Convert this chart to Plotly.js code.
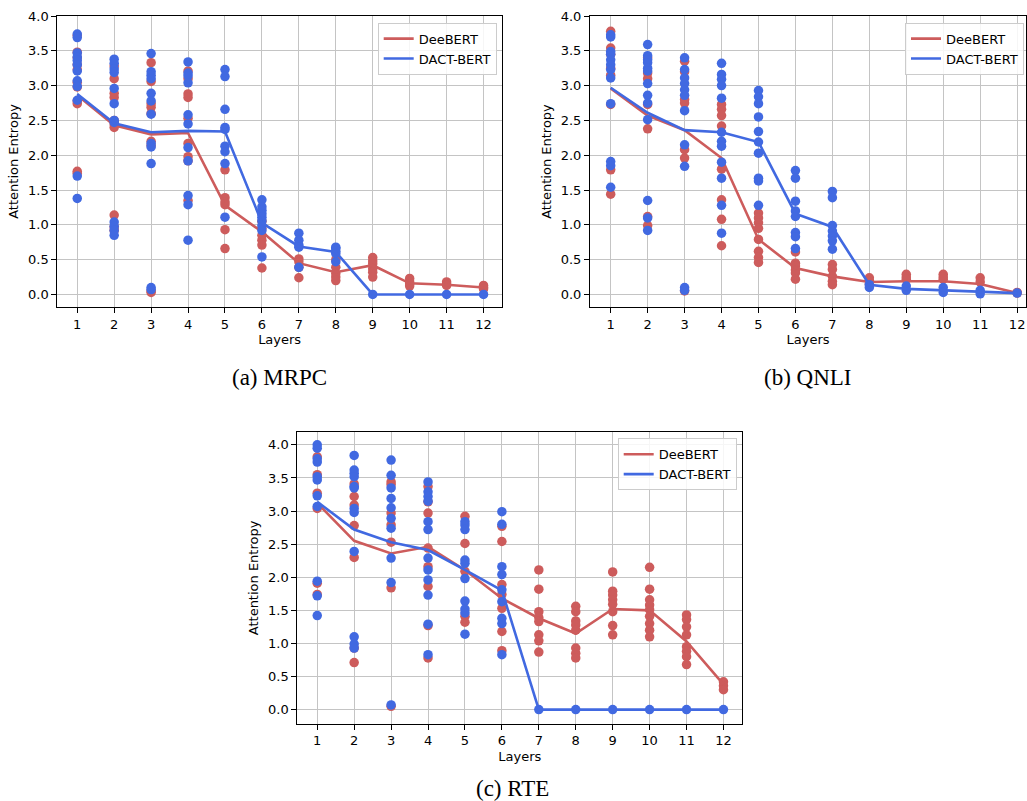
<!DOCTYPE html>
<html>
<head>
<meta charset="utf-8">
<script src="https://cdn.plot.ly/plotly-3.0.1.min.js"></script>
<style>
  html, body { margin: 0; padding: 0; background: #fff; }
  #chart { width: 1027px; height: 801px; }
</style>
</head>
<body>
<div id="chart"></div>
<script>
// ---------------- data ----------------
const layers = [1, 2, 3, 4, 5, 6, 7, 8, 9, 10, 11, 12];
const seriesNames = ["DeeBERT", "DACT-BERT"];
const captions = ["(a) MRPC", "(b) QNLI", "(c) RTE"];

// MRPC: per-layer head entropies
const mrpcDeeBERTPoints = [
  [3.72, 3.48, 3.40, 3.30, 3.23, 3.05, 2.98, 2.78, 2.74, 1.77, 1.74],
  [3.28, 3.10, 2.89, 2.83, 2.50, 2.45, 2.40, 1.14, 0.97, 0.92],
  [3.33, 3.06, 2.74, 2.69, 2.60, 2.20, 2.14, 0.05, 0.03],
  [3.21, 3.10, 2.88, 2.83, 2.53, 2.17, 1.98, 1.92, 1.35],
  [1.79, 1.39, 1.33, 1.29, 0.93, 0.66],
  [1.05, 0.95, 0.85, 0.78, 0.71, 0.38],
  [0.51, 0.47, 0.39, 0.24],
  [0.50, 0.39, 0.30, 0.25, 0.20],
  [0.53, 0.48, 0.44, 0.37, 0.32, 0.25],
  [0.23, 0.18, 0.15, 0.12],
  [0.18, 0.15, 0.13],
  [0.13, 0.10, 0.08]
];
const mrpcDactPoints = [
  [3.74, 3.69, 3.47, 3.41, 3.36, 3.30, 3.21, 3.07, 2.99, 2.79, 1.70, 1.38],
  [3.38, 3.32, 3.24, 3.19, 2.96, 2.74, 2.50, 2.47, 1.04, 0.98, 0.92, 0.85],
  [3.46, 3.20, 3.15, 3.10, 2.89, 2.78, 2.59, 2.17, 2.12, 1.88, 0.10, 0.07],
  [3.34, 3.18, 3.14, 3.04, 2.58, 2.45, 2.11, 1.92, 1.42, 1.29, 0.78],
  [3.23, 3.13, 2.66, 2.40, 2.37, 2.13, 2.05, 1.88, 1.11],
  [1.36, 1.26, 1.21, 1.16, 1.11, 1.06, 0.99, 0.92, 0.54],
  [0.88, 0.78, 0.71, 0.68, 0.39],
  [0.68, 0.66, 0.62, 0.59, 0.47],
  [0.0], [0.0], [0.0], [0.0]
];
const mrpcDeeBERTMean = [2.86, 2.43, 2.30, 2.32, 1.28, 0.90, 0.45, 0.32, 0.42, 0.16, 0.14, 0.10];
const mrpcDactMean    = [2.88, 2.46, 2.33, 2.35, 2.34, 1.03, 0.69, 0.61, 0.0, 0.0, 0.0, 0.0];

// QNLI
const qnliDeeBERTPoints = [
  [3.78, 3.54, 3.45, 3.25, 3.15, 2.73, 1.79, 1.44],
  [3.40, 3.18, 3.10, 2.73, 2.38, 1.12, 0.99],
  [3.35, 3.20, 2.80, 2.75, 2.08, 1.96, 0.05],
  [2.73, 2.66, 2.57, 2.42, 1.80, 1.36, 1.08, 0.70],
  [1.17, 1.10, 1.03, 0.95, 0.79, 0.62, 0.53, 0.46],
  [0.61, 0.45, 0.41, 0.35, 0.31, 0.22],
  [0.43, 0.36, 0.26, 0.19, 0.14],
  [0.24, 0.20, 0.15],
  [0.29, 0.25, 0.22],
  [0.29, 0.25, 0.22],
  [0.24, 0.18],
  [0.03, 0.02]
];
const qnliDactPoints = [
  [3.73, 3.70, 3.49, 3.45, 3.37, 3.30, 3.23, 3.11, 2.74, 1.91, 1.85, 1.54],
  [3.59, 3.43, 3.37, 3.33, 3.25, 3.21, 3.03, 2.86, 2.75, 2.51, 1.35, 1.10, 0.92],
  [3.40, 3.23, 3.11, 3.03, 2.94, 2.86, 2.64, 2.15, 1.84, 0.10, 0.06],
  [3.32, 3.16, 3.09, 3.00, 2.82, 2.33, 2.20, 2.13, 1.90, 1.67, 1.28, 0.88],
  [2.93, 2.84, 2.74, 2.55, 2.34, 2.19, 2.03, 1.67, 1.63, 1.28],
  [1.78, 1.67, 1.34, 1.20, 1.12, 0.89, 0.83, 0.66],
  [1.48, 1.39, 0.99, 0.91, 0.84, 0.77, 0.65],
  [0.14, 0.10],
  [0.12, 0.06],
  [0.10, 0.03],
  [0.06, 0.01],
  [0.02]
];
const qnliDeeBERTMean = [2.96, 2.57, 2.36, 1.96, 0.79, 0.38, 0.26, 0.18, 0.19, 0.19, 0.15, 0.02];
const qnliDactMean    = [2.97, 2.61, 2.36, 2.33, 2.19, 1.16, 0.97, 0.14, 0.08, 0.06, 0.03, 0.02];

// RTE
const rteDeeBERTPoints = [
  [3.82, 3.55, 3.27, 3.04, 1.91, 1.74],
  [3.41, 3.22, 3.09, 2.78, 2.30, 0.93, 0.71],
  [3.44, 3.40, 2.97, 2.79, 2.53, 1.84, 0.05],
  [3.37, 3.14, 2.97, 2.44, 2.16, 1.86, 1.27, 0.78],
  [2.92, 2.51, 2.09, 1.41, 1.32],
  [2.77, 2.54, 1.89, 1.74, 1.53, 1.18, 0.89],
  [2.11, 1.82, 1.48, 1.39, 1.33, 1.13, 1.04, 0.87],
  [1.56, 1.48, 1.34, 1.28, 1.20, 0.93, 0.85, 0.78],
  [2.08, 1.79, 1.73, 1.66, 1.59, 1.48, 1.27, 1.13],
  [2.15, 1.82, 1.66, 1.58, 1.51, 1.41, 1.30, 1.20, 1.10],
  [1.43, 1.36, 1.25, 1.13, 0.95, 0.88, 0.80, 0.68],
  [0.42, 0.36, 0.30]
];
const rteDactPoints = [
  [4.00, 3.95, 3.79, 3.74, 3.52, 3.47, 3.23, 3.07, 1.94, 1.72, 1.42],
  [3.84, 3.62, 3.57, 3.52, 3.37, 3.35, 3.04, 2.98, 2.39, 1.10, 0.99, 0.93],
  [3.77, 3.54, 3.35, 3.19, 3.05, 2.89, 2.74, 2.29, 1.92, 0.07],
  [3.44, 3.29, 3.22, 3.15, 2.84, 2.72, 2.29, 2.11, 1.96, 1.73, 1.29, 0.83],
  [2.84, 2.79, 2.72, 2.26, 2.21, 1.98, 1.64, 1.52, 1.46, 1.14],
  [2.99, 2.80, 2.16, 2.04, 1.81, 1.63, 1.38, 1.30, 0.83],
  [0.0], [0.0], [0.0], [0.0], [0.0], [0.0]
];
const rteDeeBERTMean = [3.12, 2.55, 2.36, 2.46, 2.11, 1.68, 1.38, 1.15, 1.52, 1.50, 1.03, 0.38];
const rteDactMean    = [3.14, 2.72, 2.53, 2.41, 2.11, 1.80, 0.0, 0.0, 0.0, 0.0, 0.0, 0.0];

const yTickVals = [0.0, 0.5, 1.0, 1.5, 2.0, 2.5, 3.0, 3.5, 4.0];

// ---------------- styling ----------------
const RED = "#cd5c5c";
const BLUE = "#4169e1";
const FONT = "DejaVu Sans, sans-serif";
const W = 1027, H = 801;

function flatten(points) {
  const xs = [], ys = [];
  points.forEach((vals, i) => vals.forEach(v => { xs.push(layers[i]); ys.push(v); }));
  return { xs, ys };
}

const panels = [
  { dee: mrpcDeeBERTPoints, dact: mrpcDactPoints, deeM: mrpcDeeBERTMean, dactM: mrpcDactMean, xa: "x", ya: "y", lg: "legend" },
  { dee: qnliDeeBERTPoints, dact: qnliDactPoints, deeM: qnliDeeBERTMean, dactM: qnliDactMean, xa: "x2", ya: "y2", lg: "legend2" },
  { dee: rteDeeBERTPoints, dact: rteDactPoints, deeM: rteDeeBERTMean, dactM: rteDactMean, xa: "x3", ya: "y3", lg: "legend3" }
];

const traces = [];
panels.forEach(p => {
  const d = flatten(p.dee), b = flatten(p.dact);
  traces.push({ x: d.xs, y: d.ys, xaxis: p.xa, yaxis: p.ya, mode: "markers", type: "scatter",
    marker: { color: RED, size: 9.5 }, showlegend: false, hoverinfo: "skip" });
  traces.push({ x: layers, y: p.deeM, xaxis: p.xa, yaxis: p.ya, mode: "lines", type: "scatter",
    name: seriesNames[0], legend: p.lg, line: { color: RED, width: 2.6 } });
  traces.push({ x: b.xs, y: b.ys, xaxis: p.xa, yaxis: p.ya, mode: "markers", type: "scatter",
    marker: { color: BLUE, size: 9.5 }, showlegend: false, hoverinfo: "skip" });
  traces.push({ x: layers, y: p.dactM, xaxis: p.xa, yaxis: p.ya, mode: "lines", type: "scatter",
    name: seriesNames[1], legend: p.lg, line: { color: BLUE, width: 2.6 } });
});

function xAxis(domain, range, anchor) {
  return {
    domain: domain, range: range, anchor: anchor,
    tickmode: "array", tickvals: layers, ticktext: layers.map(String),
    ticks: "outside", ticklen: 5, tickwidth: 1, tickcolor: "#000",
    showline: true, mirror: true, linecolor: "#000", linewidth: 1,
    showgrid: true, gridcolor: "#c4c4c4", gridwidth: 1, zeroline: false,
    tickfont: { family: FONT, size: 13, color: "#000" },
    title: { text: "Layers", font: { family: FONT, size: 13, color: "#000" }, standoff: 4 }
  };
}
function yAxis(domain, range, anchor) {
  return {
    domain: domain, range: range, anchor: anchor,
    tickmode: "array", tickvals: yTickVals, ticktext: yTickVals.map(v => v.toFixed(1)),
    ticks: "outside", ticklen: 5, tickwidth: 1, tickcolor: "#000",
    showline: true, mirror: true, linecolor: "#000", linewidth: 1,
    showgrid: true, gridcolor: "#c4c4c4", gridwidth: 1, zeroline: false,
    tickfont: { family: FONT, size: 13, color: "#000" },
    title: { text: "Attention Entropy", font: { family: FONT, size: 13, color: "#000" }, standoff: 6 }
  };
}
function legendBox(xRightPx, yTopPx) {
  return {
    x: xRightPx / W, y: 1 - yTopPx / H, xanchor: "right", yanchor: "top",
    bgcolor: "rgba(255,255,255,0.85)", bordercolor: "#cccccc", borderwidth: 1,
    font: { family: FONT, size: 13, color: "#000" }, tracegroupgap: 0
  };
}

const layout = {
  width: W, height: H,
  margin: { l: 0, r: 0, t: 0, b: 0 },
  paper_bgcolor: "#fff", plot_bgcolor: "#fff",
  font: { family: FONT, size: 13, color: "#000" },
  xaxis:  xAxis([57.3 / W, 502 / W], [0.46, 12.5], "y"),
  yaxis:  yAxis([1 - 307 / H, 1 - 16 / H], [-0.18, 4.0], "x"),
  xaxis2: xAxis([590 / W, 1026 / W], [0.44, 12.24], "y2"),
  yaxis2: yAxis([1 - 307 / H, 1 - 16 / H], [-0.18, 4.0], "x2"),
  xaxis3: xAxis([297.3 / W, 742.3 / W], [0.46, 12.51], "y3"),
  yaxis3: yAxis([1 - 723.5 / H, 1 - 432.3 / H], [-0.21, 4.19], "x3"),
  legend:  legendBox(496.7, 22.7),
  legend2: legendBox(1024, 22.7),
  legend3: legendBox(736.7, 438.3),
  showlegend: true,
  annotations: [
    { text: captions[0], x: 279.6 / W, y: 1 - 377 / H },
    { text: captions[1], x: 808 / W, y: 1 - 377 / H },
    { text: captions[2], x: 512 / W, y: 1 - 788 / H }
  ].map(a => Object.assign(a, {
    xref: "paper", yref: "paper", xanchor: "center", yanchor: "middle", showarrow: false,
    font: { family: "Liberation Serif, Times New Roman, serif", size: 23, color: "#000" }
  }))
};

Plotly.newPlot("chart", traces, layout, { staticPlot: true, displayModeBar: false });
</script>
</body>
</html>
